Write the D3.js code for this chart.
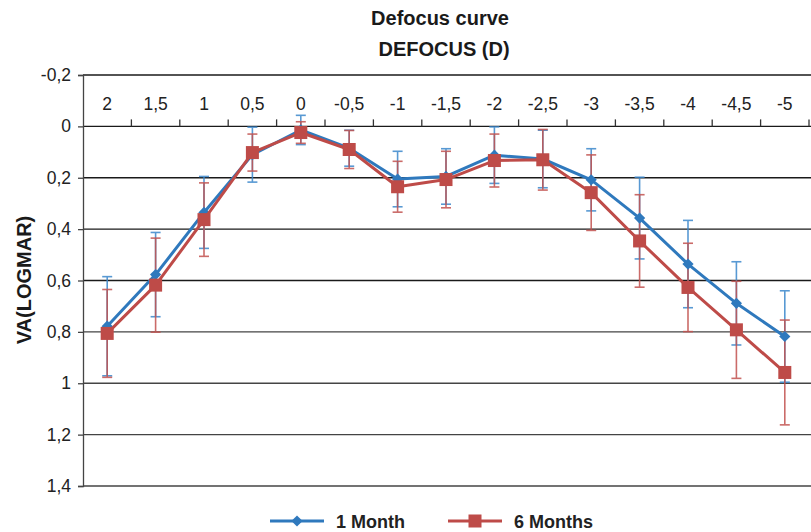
<!DOCTYPE html>
<html>
<head>
<meta charset="utf-8">
<script src="https://cdn.jsdelivr.net/npm/d3@7/dist/d3.min.js"></script>
<style>
  html, body { margin: 0; padding: 0; background: #fff; }
  svg { display: block; font-family: "Liberation Sans", Arial, Helvetica, sans-serif; }
</style>
</head>
<body>
<svg id="chart" width="811" height="532"></svg>
<script>
// Defocus levels (diopters) shown along the top axis
const categories = ["2", "1,5", "1", "0,5", "0", "-0,5", "-1", "-1,5", "-2", "-2,5", "-3", "-3,5", "-4", "-4,5", "-5"];

// Mean visual acuity (logMAR) and standard deviation per defocus level
const month1Values = [0.778, 0.577, 0.335, 0.11, 0.014, 0.085, 0.205, 0.195, 0.112, 0.127, 0.208, 0.357, 0.536, 0.689, 0.818];
const month1SD     = [0.193, 0.164, 0.140, 0.107, 0.057, 0.070, 0.108, 0.108, 0.110, 0.112, 0.121, 0.159, 0.170, 0.162, 0.178];
const month6Values = [0.806, 0.618, 0.363, 0.102, 0.024, 0.090, 0.235, 0.207, 0.133, 0.130, 0.258, 0.446, 0.627, 0.792, 0.958];
const month6SD     = [0.171, 0.183, 0.143, 0.072, 0.042, 0.074, 0.099, 0.110, 0.103, 0.118, 0.147, 0.180, 0.172, 0.189, 0.204];

const yTicks = [-0.2, 0, 0.2, 0.4, 0.6, 0.8, 1, 1.2, 1.4];
const fmt = v => String(+v.toFixed(1)).replace(".", ",");

const svg = d3.select("#chart");
const plotLeft = 83, plotRight = 809, plotTop = 75, plotBottom = 486;

const x = d3.scaleBand().domain(categories).range([plotLeft, plotRight]).padding(0);
const y = d3.scaleLinear().domain([-0.2, 1.4]).range([plotTop, plotBottom]);
const cx = c => x(c) + x.bandwidth() / 2;

// Titles
svg.append("text").attr("x", 440).attr("y", 25).attr("text-anchor", "middle")
  .attr("font-size", 20).attr("font-weight", "bold").attr("fill", "#1a1a1a").text("Defocus curve");
svg.append("text").attr("x", 444).attr("y", 56).attr("text-anchor", "middle")
  .attr("font-size", 20).attr("font-weight", "bold").attr("fill", "#1a1a1a").text("DEFOCUS (D)");

// Y axis title
svg.append("text")
  .attr("transform", `translate(31,280) rotate(-90)`)
  .attr("text-anchor", "middle").attr("font-size", 20).attr("font-weight", "bold")
  .attr("fill", "#1a1a1a").text("VA(LOGMAR)");

// Horizontal gridlines
svg.append("g").selectAll("line").data(yTicks).join("line")
  .attr("x1", plotLeft).attr("x2", 811)
  .attr("y1", d => y(d)).attr("y2", d => y(d))
  .attr("stroke", d => d >= 0.8 ? "#444" : "#1a1a1a").attr("stroke-width", 1.3);

// Y axis (left), ticks pointing outward
const yAxis = d3.axisLeft(y).tickValues(yTicks).tickFormat(fmt).tickSize(5).tickPadding(7);
const gy = svg.append("g").attr("transform", `translate(${plotLeft},0)`).call(yAxis);
gy.select(".domain").attr("stroke", "#444").attr("stroke-width", 1.3);
gy.selectAll(".tick line").attr("stroke", "#444").attr("stroke-width", 1.3);
gy.selectAll(".tick text").attr("font-size", 17.5).attr("fill", "#222")
  .attr("font-family", "'Liberation Sans', Arial, sans-serif");

// Category axis on the zero line, ticks pointing up at band boundaries
const boundaries = categories.map(c => x(c) + x.bandwidth());
svg.append("g").selectAll("line").data(boundaries).join("line")
  .attr("x1", d => d).attr("x2", d => d)
  .attr("y1", y(0)).attr("y2", y(0) - 7)
  .attr("stroke", "#333").attr("stroke-width", 1.3);
svg.append("g").selectAll("text").data(categories).join("text")
  .attr("x", d => cx(d)).attr("y", 110).attr("text-anchor", "middle")
  .attr("font-size", 17.5).attr("fill", "#222").text(d => d);

// Series definitions
const blue = "#2f79bd", red = "#be4b48";
const series = [
  { name: "1 Month", values: month1Values, sd: month1SD, color: blue, errColor: "#3c88cc", marker: "diamond" },
  { name: "6 Months", values: month6Values, sd: month6SD, color: red, errColor: "#c2524f", marker: "square" }
];

// Error bars
const cap = 5;
series.forEach(s => {
  const g = svg.append("g").attr("stroke", s.errColor).attr("stroke-width", 1.6).attr("opacity", 0.85);
  categories.forEach((c, i) => {
    const lo = y(s.values[i] - s.sd[i]), hi = y(s.values[i] + s.sd[i]);
    g.append("line").attr("x1", cx(c)).attr("x2", cx(c)).attr("y1", lo).attr("y2", hi);
    g.append("line").attr("x1", cx(c) - cap).attr("x2", cx(c) + cap).attr("y1", lo).attr("y2", lo);
    g.append("line").attr("x1", cx(c) - cap).attr("x2", cx(c) + cap).attr("y1", hi).attr("y2", hi);
  });
});

// Lines and markers
const line = d3.line().x((d, i) => cx(categories[i])).y(d => y(d));
const diamond = d3.symbol().type(d3.symbolDiamond2).size(80);
series.forEach(s => {
  svg.append("path").datum(s.values).attr("d", line)
    .attr("fill", "none").attr("stroke", s.color).attr("stroke-width", 3).attr("stroke-linejoin", "round");
  const g = svg.append("g");
  if (s.marker === "diamond") {
    g.selectAll("path").data(s.values).join("path")
      .attr("transform", (d, i) => `translate(${cx(categories[i])},${y(d)})`)
      .attr("d", diamond).attr("fill", s.color);
  } else {
    g.selectAll("rect").data(s.values).join("rect")
      .attr("x", (d, i) => cx(categories[i]) - 6.5).attr("y", d => y(d) - 6.5)
      .attr("width", 13).attr("height", 13).attr("fill", s.color);
  }
});

// Legend
const legend = svg.append("g");
const legendItems = [
  { s: series[0], x0: 270 },
  { s: series[1], x0: 448 }
];
legendItems.forEach(({ s, x0 }) => {
  const ly = 521;
  legend.append("line").attr("x1", x0).attr("x2", x0 + 54).attr("y1", ly).attr("y2", ly)
    .attr("stroke", s.color).attr("stroke-width", 3);
  if (s.marker === "diamond") {
    legend.append("path").attr("transform", `translate(${x0 + 27},${ly})`)
      .attr("d", diamond).attr("fill", s.color);
  } else {
    legend.append("rect").attr("x", x0 + 27 - 6.5).attr("y", ly - 6.5)
      .attr("width", 13).attr("height", 13).attr("fill", s.color);
  }
  legend.append("text").attr("x", x0 + 66).attr("y", ly + 6.5).attr("font-size", 18)
    .attr("font-weight", "bold").attr("fill", "#222").text(s.name);
});
</script>
</body>
</html>
